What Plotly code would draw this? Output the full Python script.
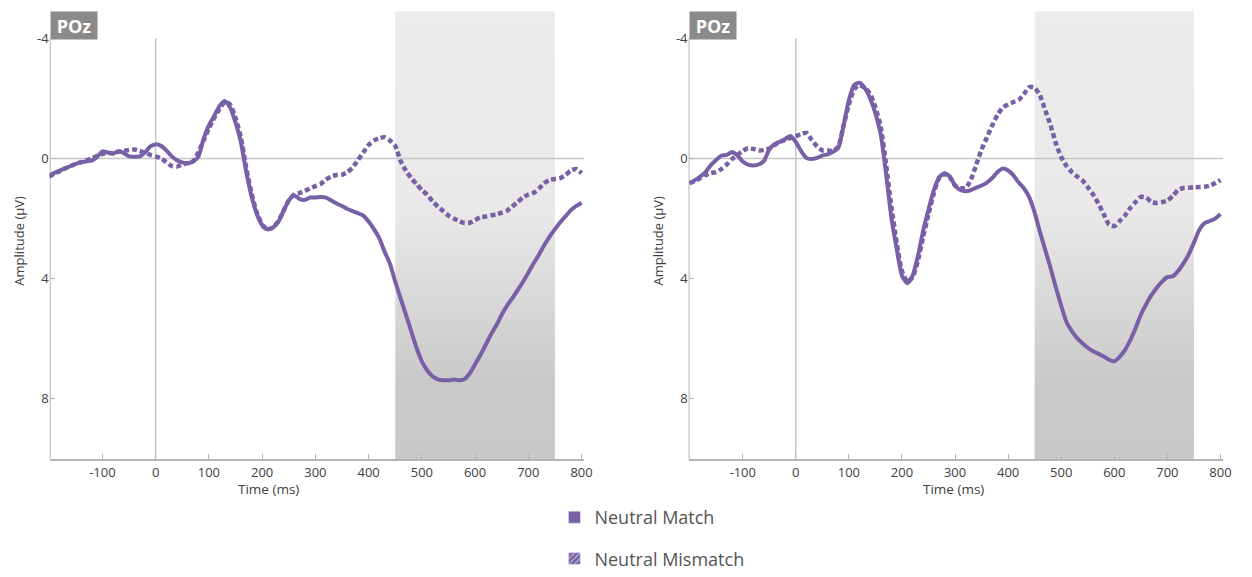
import plotly.graph_objects as go

# ---------------- data ----------------
time_ms = list(range(-200, 801, 10))

left_match = [0.55, 0.48, 0.40, 0.33, 0.25, 0.18, 0.13, 0.09, 0.07, -0.05,
              -0.24, -0.20, -0.16, -0.25, -0.18, -0.07, -0.06, -0.07, -0.20, -0.40,
              -0.47, -0.42, -0.27, -0.08, 0.06, 0.13, 0.16, 0.10, -0.05, -0.65,
              -1.10, -1.42, -1.75, -1.91, -1.70, -1.20, -0.56, 0.43, 1.25, 1.85,
              2.22, 2.36, 2.30, 2.12, 1.75, 1.40, 1.22, 1.35, 1.38, 1.30,
              1.30, 1.28, 1.30, 1.40, 1.50, 1.58, 1.68, 1.75, 1.82, 1.90,
              2.10, 2.35, 2.65, 3.10, 3.50, 4.10, 4.65, 5.20, 5.75, 6.30,
              6.75, 7.05, 7.25, 7.35, 7.38, 7.38, 7.36, 7.38, 7.35, 7.15,
              6.85, 6.54, 6.20, 5.85, 5.55, 5.20, 4.90, 4.65, 4.38, 4.10,
              3.80, 3.49, 3.20, 2.88, 2.60, 2.35, 2.12, 1.92, 1.72, 1.58,
              1.47]

left_mismatch = [0.60, 0.50, 0.42, 0.33, 0.26, 0.18, 0.12, 0.06, 0.00, -0.08,
                 -0.15, -0.18, -0.18, -0.22, -0.25, -0.28, -0.30, -0.25, -0.20, -0.12,
                 -0.07, 0.00, 0.12, 0.25, 0.27, 0.20, 0.15, 0.10, -0.20, -0.60,
                 -1.00, -1.35, -1.65, -1.88, -1.80, -1.35, -0.70, 0.30, 1.15, 1.80,
                 2.20, 2.35, 2.30, 2.10, 1.75, 1.40, 1.20, 1.15, 1.08, 1.00,
                 0.92, 0.85, 0.70, 0.60, 0.55, 0.54, 0.45, 0.30, 0.05, -0.20,
                 -0.45, -0.60, -0.68, -0.71, -0.60, -0.42, 0.08, 0.40, 0.65, 0.85,
                 1.05, 1.20, 1.42, 1.60, 1.75, 1.90, 2.00, 2.08, 2.15, 2.14,
                 2.05, 1.96, 1.93, 1.89, 1.86, 1.80, 1.74, 1.60, 1.45, 1.30,
                 1.20, 1.14, 1.00, 0.82, 0.72, 0.68, 0.65, 0.55, 0.40, 0.35,
                 0.49]

right_match = [0.82, 0.72, 0.60, 0.45, 0.22, 0.05, -0.10, -0.12, -0.22, -0.10,
               0.10, 0.20, 0.23, 0.20, 0.08, -0.30, -0.48, -0.56, -0.65, -0.75,
               -0.55, -0.25, -0.02, 0.02, -0.02, -0.10, -0.14, -0.22, -0.35, -1.10,
               -1.95, -2.45, -2.52, -2.34, -2.00, -1.50, -0.80, 0.50, 1.96, 3.00,
               3.90, 4.15, 3.90, 3.25, 2.40, 1.70, 1.05, 0.63, 0.49, 0.60,
               0.90, 1.05, 1.09, 1.05, 0.97, 0.90, 0.80, 0.65, 0.45, 0.33,
               0.40, 0.56, 0.80, 1.00, 1.30, 1.80, 2.45, 3.05, 3.65, 4.30,
               4.90, 5.45, 5.75, 5.98, 6.15, 6.30, 6.42, 6.50, 6.59, 6.70,
               6.75, 6.60, 6.38, 6.05, 5.65, 5.20, 4.85, 4.55, 4.30, 4.10,
               3.95, 3.92, 3.75, 3.50, 3.20, 2.80, 2.38, 2.15, 2.08, 2.00,
               1.85]

right_mismatch = [0.82, 0.75, 0.65, 0.55, 0.48, 0.45, 0.35, 0.20, 0.02, -0.12,
                  -0.25, -0.35, -0.32, -0.27, -0.28, -0.33, -0.45, -0.55, -0.62, -0.68,
                  -0.74, -0.82, -0.85, -0.62, -0.40, -0.27, -0.27, -0.25, -0.40, -1.10,
                  -1.80, -2.30, -2.45, -2.35, -2.15, -1.70, -1.05, 0.20, 1.60, 2.80,
                  3.75, 4.10, 3.95, 3.40, 2.60, 1.85, 1.15, 0.65, 0.52, 0.62,
                  0.90, 0.98, 0.98, 0.70, 0.20, -0.30, -0.70, -1.10, -1.45, -1.70,
                  -1.80, -1.88, -1.95, -2.15, -2.38, -2.35, -2.10, -1.60, -1.10, -0.50,
                  -0.05, 0.25, 0.45, 0.60, 0.73, 0.95, 1.20, 1.50, 1.85, 2.20,
                  2.25, 2.08, 1.90, 1.65, 1.45, 1.28, 1.30, 1.45, 1.48, 1.45,
                  1.40, 1.25, 1.05, 0.98, 0.97, 0.96, 0.95, 0.94, 0.90, 0.82,
                  0.72]

x_ticks = [-100, 0, 100, 200, 300, 400, 500, 600, 700, 800]
x_tick_labels = ["-100", "0", "100", "200", "300", "400", "500", "600", "700", "800"]
y_ticks = [-4, 0, 4, 8]
y_tick_labels = ["-4", "0", "4", "8"]
panel_label = "POz"
window_start = 450
window_end = 750
series_names = ["Neutral Match", "Neutral Mismatch"]

# ---------------- styling ----------------
W, H = 1252, 577
PURPLE = "#7760a6"
AXIS_GRAY = "#b4b4b4"
ZERO_GRAY = "#c6c6c6"
TXT = "#404040"
FONT = "Open Sans"

x_range_left = [-199, 805]
x_range_right = [-202, 805]
y_range = [10, -4.9]   # reversed (negative up)
y_top_axis = -4
y_bottom_axis = 10


def px_x(p):
    return p / W


def px_y(p):
    return 1 - p / H


panels = [
    dict(xd=[px_x(50), px_x(588)], xr=x_range_left, match=left_match, mismatch=left_mismatch,
         xa="x", ya="y", title_x=270, ytitle_x=19),
    dict(xd=[px_x(693), px_x(1231)], xr=x_range_right, match=right_match, mismatch=right_mismatch,
         xa="x2", ya="y2", title_x=960, ytitle_x=662),
]
y_dom = [px_y(467), px_y(11.5)]

fig = go.Figure()
annotations = []

for i, p in enumerate(panels):
    xa, ya, xr = p["xa"], p["ya"], p["xr"]
    # analysis window with vertical gradient
    fig.add_trace(go.Scatter(
        x=[window_start, window_end, window_end, window_start, window_start],
        y=[y_range[1], y_range[1], y_bottom_axis, y_bottom_axis, y_range[1]],
        xaxis=xa, yaxis=ya, mode="lines", line=dict(width=0),
        fill="toself",
        fillgradient=dict(type="vertical", start=y_range[1], stop=y_range[0],
                          colorscale=[[0, "#ececec"], [0.44, "#e9e9e9"],
                                      [0.83, "#c9c9c9"], [1, "#c8c8c8"]]),
        hoverinfo="skip", showlegend=False))
    # zero reference lines
    fig.add_trace(go.Scatter(x=[xr[0], xr[1]], y=[0, 0], xaxis=xa, yaxis=ya,
                             mode="lines", line=dict(color=ZERO_GRAY, width=1.5),
                             hoverinfo="skip", showlegend=False))
    fig.add_trace(go.Scatter(x=[0, 0], y=[y_top_axis, y_bottom_axis], xaxis=xa, yaxis=ya,
                             mode="lines", line=dict(color=ZERO_GRAY, width=1.5),
                             hoverinfo="skip", showlegend=False))
    # y axis line (from -4 to bottom)
    fig.add_trace(go.Scatter(x=[xr[0], xr[0]], y=[y_top_axis, y_bottom_axis],
                             xaxis=xa, yaxis=ya, mode="lines",
                             line=dict(color=AXIS_GRAY, width=2),
                             hoverinfo="skip", showlegend=False, cliponaxis=False))
    # data
    fig.add_trace(go.Scatter(x=time_ms, y=p["mismatch"], xaxis=xa, yaxis=ya, mode="lines",
                             line=dict(color=PURPLE, width=4.5, dash="5px,3px", shape="spline",
                                       smoothing=0.6),
                             name=series_names[1], showlegend=False))
    fig.add_trace(go.Scatter(x=time_ms, y=p["match"], xaxis=xa, yaxis=ya, mode="lines",
                             line=dict(color=PURPLE, width=4, shape="spline", smoothing=0.6),
                             name=series_names[0], showlegend=False))

    sfx = "" if i == 0 else "2"
    fig.update_layout(**{
        "xaxis" + sfx: dict(domain=p["xd"], range=xr, anchor=ya, tickvals=x_ticks,
                            ticktext=x_tick_labels,
                            ticks="inside", ticklen=5, tickcolor=AXIS_GRAY, showline=True,
                            linecolor=AXIS_GRAY, linewidth=2, showgrid=False, zeroline=False,
                            tickfont=dict(family=FONT, size=13, color=TXT), fixedrange=True),
        "yaxis" + sfx: dict(domain=y_dom, range=y_range, anchor=xa, tickvals=y_ticks,
                            ticktext=y_tick_labels,
                            ticks="inside", ticklen=5, tickcolor=AXIS_GRAY, showline=False,
                            showgrid=False, zeroline=False,
                            tickfont=dict(family=FONT, size=13, color=TXT), fixedrange=True),
    })
    # panel label
    annotations.append(dict(text="<b>" + panel_label + "</b>", xref="paper", yref="paper",
                            x=p["xd"][0], y=px_y(11), xanchor="left", yanchor="top",
                            width=42, height=23, align="center", valign="middle",
                            showarrow=False, bgcolor="#8a8a8a", borderpad=2,
                            font=dict(family=FONT, size=18, color="white")))
    annotations.append(dict(text="Time (ms)", xref="paper", yref="paper",
                            x=px_x(p["title_x"]), y=px_y(498), xanchor="center", yanchor="middle",
                            showarrow=False, font=dict(family=FONT, size=13.5, color=TXT)))
    annotations.append(dict(text="Amplitude (µV)", xref="paper", yref="paper",
                            x=px_x(p["ytitle_x"]), y=px_y(245), xanchor="center", yanchor="middle",
                            textangle=-90, showarrow=False,
                            font=dict(family=FONT, size=13, color=TXT)))

# legend entries (square swatches)
fig.add_trace(go.Bar(x=[None], y=[None], name=series_names[0], marker=dict(color=PURPLE),
                     legendgroup="a", showlegend=True))
fig.add_trace(go.Bar(x=[None], y=[None], name=series_names[1],
                     marker=dict(color=PURPLE, pattern=dict(shape="/", fgcolor="white",
                                                            bgcolor=PURPLE, size=5, solidity=0.35)),
                     legendgroup="b", showlegend=True))

fig.update_layout(
    width=W, height=H, margin=dict(l=0, r=0, t=0, b=0),
    paper_bgcolor="white", plot_bgcolor="white",
    annotations=annotations,
    legend=dict(x=px_x(558), y=px_y(508), xanchor="left", yanchor="top",
                orientation="v", tracegroupgap=15, bgcolor="rgba(0,0,0,0)",
                font=dict(family=FONT, size=18, color="#555555"), itemwidth=30),
    showlegend=True,
)

fig.write_html("out.html", config={"displayModeBar": False},
               post_script="document.body.style.margin='0';document.body.style.overflow='hidden';")
